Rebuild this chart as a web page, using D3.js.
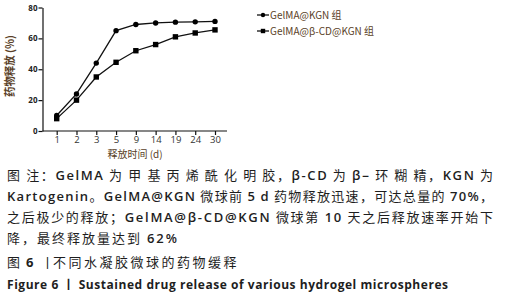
<!DOCTYPE html>
<html>
<head>
<meta charset="utf-8">
<script src="https://cdn.jsdelivr.net/npm/d3@7"></script>
<style>
  body { margin: 0; background: #fff; }
  #chart { width: 512px; height: 300px; }
</style>
</head>
<body>
<div id="chart"></div>
<script>
// data
const days = ["1", "2", "3", "5", "9", "14", "19", "24", "30"];
const gelmaKgn = [10, 24, 44, 65, 69, 70, 70.5, 70.7, 71];
const gelmaCdKgn = [8, 20, 35, 44.5, 52, 56, 61, 63.5, 65.5];
const yTicks = [0, 20, 40, 60, 80];
const seriesNames = ["GelMA@KGN 组", "GelMA@β-CD@KGN 组"];

const captionLines = [
    "图 注：GelMA 为 甲 基 丙 烯 酰 化 明 胶，β-CD 为 β‒ 环 糊 精，KGN 为",
    "Kartogenin。GelMA@KGN 微球前 5 d 药物释放迅速，可达总量的 70%，",
    "之后极少的释放；GelMA@β-CD@KGN 微球第 10 天之后释放速率开始下",
    "降，最终释放量达到 62%"
];
const figTitleCn = ["图", "6", "丨", "不同水凝胶微球的药物缓释"];
const figTitleEn = "Figure 6 丨 Sustained drug release of various hydrogel microspheres";

const width = 512, height = 300;
const font = "'Noto Sans CJK SC', 'Open Sans', sans-serif";
const latinFont = "'Open Sans', 'Noto Sans CJK SC', sans-serif";
const labelColor = "#5a3f28";
const textColor = "#1e1e1e";

const svg = d3.select("#chart").append("svg")
    .attr("width", width)
    .attr("height", height);

const axisLeft = 42.5, axisTop = 7.5, axisBottom = 131, axisRight = 227;

const x = d3.scalePoint()
    .domain(days)
    .range([56.7, 215]);

const y = d3.scaleLinear()
    .domain([0, 80])
    .range([axisBottom, axisTop]);

// y axis
const yAxis = svg.append("g")
    .attr("transform", `translate(${axisLeft},0)`)
    .call(d3.axisLeft(y).tickValues(yTicks).tickSize(4).tickSizeOuter(0));
yAxis.select(".domain").attr("stroke", "#111").attr("stroke-width", 1.2);
yAxis.selectAll(".tick line").attr("stroke", "#111").attr("stroke-width", 1.2);
yAxis.selectAll("text")
    .attr("x", -5)
    .style("font-family", latinFont)
    .style("font-size", "8px")
    .style("font-weight", "bold")
    .style("fill", "#222");

// x axis
const xAxis = svg.append("g")
    .attr("transform", `translate(0,${axisBottom})`)
    .call(d3.axisBottom(x).tickSize(4).tickSizeOuter(0));
xAxis.select(".domain").remove();
xAxis.append("line")
    .attr("x1", axisLeft).attr("x2", axisRight)
    .attr("stroke", "#111").attr("stroke-width", 1.2);
xAxis.selectAll(".tick line").attr("stroke", "#111").attr("stroke-width", 1.2);
xAxis.selectAll("text")
    .attr("y", 5)
    .style("font-family", latinFont)
    .style("font-size", "9.5px")
    .style("fill", "#333");

// axis titles
svg.append("text")
    .attr("transform", "rotate(-90)")
    .attr("x", -66)
    .attr("y", 14)
    .attr("text-anchor", "middle")
    .attr("textLength", 62)
    .attr("lengthAdjust", "spacingAndGlyphs")
    .style("font-family", font)
    .style("font-size", "11px")
    .style("font-weight", "bold")
    .style("fill", labelColor)
    .text("药物释放 (%)");

svg.append("text")
    .attr("x", 135)
    .attr("y", 158)
    .attr("text-anchor", "middle")
    .style("font-family", font)
    .style("font-size", "10px")
    .style("fill", labelColor)
    .text("释放时间 (d)");

// lines
const line = d3.line()
    .x((d, i) => x(days[i]))
    .y(d => y(d));

[gelmaCdKgn, gelmaKgn].forEach(s => {
    svg.append("path")
        .datum(s)
        .attr("d", line)
        .attr("fill", "none")
        .attr("stroke", "#111")
        .attr("stroke-width", 1.3);
});

svg.selectAll("circle.pt")
    .data(gelmaKgn)
    .enter().append("circle")
    .attr("class", "pt")
    .attr("cx", (d, i) => x(days[i]))
    .attr("cy", d => y(d))
    .attr("r", 2.7)
    .attr("fill", "#000");

svg.selectAll("rect.pt")
    .data(gelmaCdKgn)
    .enter().append("rect")
    .attr("class", "pt")
    .attr("x", (d, i) => x(days[i]) - 2.7)
    .attr("y", d => y(d) - 2.7)
    .attr("width", 5.4)
    .attr("height", 5.4)
    .attr("fill", "#000");

// legend
const legend = svg.append("g").attr("transform", "translate(257,15)");
seriesNames.forEach((name, i) => {
    const g = legend.append("g").attr("transform", `translate(0,${i * 16})`);
    g.append("line")
        .attr("x1", 0).attr("x2", 12)
        .attr("stroke", "#111").attr("stroke-width", 1.3);
    if (i === 0) {
        g.append("circle").attr("cx", 6).attr("r", 2.2).attr("fill", "#000");
    } else {
        g.append("rect").attr("x", 3.8).attr("y", -2.2).attr("width", 4.4).attr("height", 4.4).attr("fill", "#000");
    }
    g.append("text")
        .attr("x", 13)
        .attr("dy", "0.35em")
        .style("font-family", font)
        .style("font-size", "10px")
        .style("fill", labelColor)
        .text(name);
});

// caption: latin runs a bit bolder, like the original
function addRuns(sel, str) {
    const runs = str.match(/[A-Za-z0-9@%β‒\-.]+|[^A-Za-z0-9@%β‒\-.]+/g);
    runs.forEach(r => {
        const latin = /[A-Za-z0-9@%β]/.test(r);
        sel.append("tspan")
            .style("font-family", latin ? latinFont : font)
            .style("font-weight", latin ? 600 : 400)
            .text(r);
    });
}

const captionBase = [180, 201, 222, 243];
const captionLen = [486, 486, 486, 170];
captionLines.forEach((t, i) => {
    const txt = svg.append("text")
        .attr("x", 7)
        .attr("y", captionBase[i])
        .attr("textLength", captionLen[i])
        .attr("lengthAdjust", "spacing")
        .style("font-size", "13px")
        .style("fill", textColor);
    addRuns(txt, t);
});

// Chinese figure title, pieces placed like the original
const cnX = [7, 26, 41, 53];
const cn = svg.append("text")
    .attr("y", 267)
    .style("font-size", "13px")
    .style("fill", textColor);
figTitleCn.forEach((p, i) => {
    cn.append("tspan")
        .attr("x", cnX[i])
        .style("font-family", i === 1 ? latinFont : font)
        .style("font-weight", i === 1 ? "bold" : "normal")
        .style("letter-spacing", i === 3 ? "2.5px" : "0px")
        .text(p);
});

svg.append("text")
    .attr("x", 7)
    .attr("y", 289)
    .attr("textLength", 441)
    .attr("lengthAdjust", "spacing")
    .style("font-family", latinFont)
    .style("font-size", "12px")
    .style("font-weight", "bold")
    .style("fill", textColor)
    .text(figTitleEn);
</script>
</body>
</html>
